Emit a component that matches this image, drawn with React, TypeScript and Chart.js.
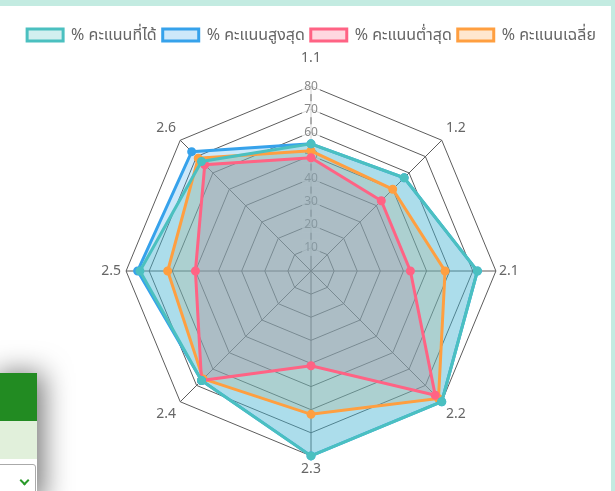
import React, { useEffect, useRef } from 'react';
import { Chart, registerables } from 'chart.js';

Chart.register(...registerables);

const axisLabels = ['1.1', '1.2', '2.1', '2.2', '2.3', '2.4', '2.5', '2.6'];
const scoreGot = [55, 57, 72, 80, 80, 67, 74, 67];
const scoreMax = [55, 57, 72, 80, 80, 67, 75, 73];
const scoreMin = [49, 43, 43, 76, 41, 67, 50, 65];
const scoreAvg = [52, 50, 58, 78, 62, 66, 62, 69];
const seriesNames = ['% คะแนนที่ได้', '% คะแนนสูงสุด', '% คะแนนต่ำสุด', '% คะแนนเฉลี่ย'];
const scaleMax = 80;
const scaleStep = 10;
const labelPadding = [15, -2, -5, -2, -15, -2, -3, -2];
const labelLineHeight = [0.72, 1.2, 1.2, 1.2, 2.86, 1.2, 1.2, 1.2];

const FONT = "'Noto Sans', 'Noto Sans Thai', 'DejaVu Sans', sans-serif";

function ds(label: string, data: number[], rgb: string) {
  return {
    label,
    data,
    borderColor: `rgb(${rgb})`,
    backgroundColor: `rgba(${rgb},0.25)`,
    pointBackgroundColor: `rgb(${rgb})`,
    pointBorderColor: `rgb(${rgb})`,
    pointRadius: 3,
    borderWidth: 3,
    fill: true,
  };
}

export default function App() {
  const ref = useRef<HTMLCanvasElement | null>(null);
  useEffect(() => {
    if (!ref.current) return;
    const chart = new Chart(ref.current, {
      type: 'radar',
      data: {
        labels: axisLabels,
        datasets: [
          ds(seriesNames[0], scoreGot, '75,192,192'),
          ds(seriesNames[1], scoreMax, '54,162,235'),
          ds(seriesNames[2], scoreMin, '255,99,132'),
          ds(seriesNames[3], scoreAvg, '255,159,64'),
        ],
      },
      options: {
        animation: false,
        responsive: true,
        maintainAspectRatio: false,
        layout: { padding: { top: 15, left: 12, right: 0, bottom: 1 } },
        plugins: {
          filler: { drawTime: 'beforeDatasetsDraw' },
          legend: {
            position: 'top',
            labels: {
              boxWidth: 36,
              boxHeight: 12,
              padding: 6,
              color: '#666',
              font: { family: FONT, size: 16 },
            },
          },
          tooltip: { enabled: false },
        },
        scales: {
          r: {
            min: 0,
            max: scaleMax,
            ticks: {
              stepSize: scaleStep,
              color: '#888',
              font: { family: FONT, size: 12 },
            },
            grid: { color: '#5c5c5c', lineWidth: 1 },
            angleLines: { color: '#5c5c5c', lineWidth: 1 },
            pointLabels: {
              color: '#666',
              padding: (ctx: any) => labelPadding[ctx.index] ?? 0,
              font: (ctx: any) => ({
                family: FONT,
                size: 14,
                lineHeight: labelLineHeight[ctx.index] ?? 1.2,
              }),
            },
          },
        },
      },
    });
    return () => chart.destroy();
  }, []);

  return (
    <div style={{ position: 'fixed', inset: 0, background: '#c3ebe1', overflow: 'hidden' }}>
      <div style={{ position: 'absolute', top: 6, left: 0, right: 4, bottom: 0, background: '#fff' }}>
        <div style={{ position: 'absolute', top: 0, left: 0, width: 611, height: 485 }}>
          <canvas ref={ref} />
        </div>
      </div>
      <div
        style={{
          position: 'absolute',
          left: -10,
          top: 373,
          width: 47,
          height: 130,
          background: '#fff',
          boxShadow: '6px 0 28px rgba(0,0,0,0.55)',
        }}
      >
        <div style={{ height: 48, background: '#228b22' }} />
        <div style={{ height: 38, background: '#e1f0db' }} />
        <div
          style={{
            position: 'absolute',
            top: 91,
            left: 0,
            width: 44,
            height: 40,
            border: '1px solid #aaa',
            borderRadius: 3,
            background: '#fff',
          }}
        >
          <div
            style={{
              position: 'absolute',
              left: 30,
              top: 12,
              width: 5,
              height: 5,
              borderRight: '2px solid #2a9a2a',
              borderBottom: '2px solid #2a9a2a',
              transform: 'rotate(45deg)',
            }}
          />
        </div>
      </div>
    </div>
  );
}
